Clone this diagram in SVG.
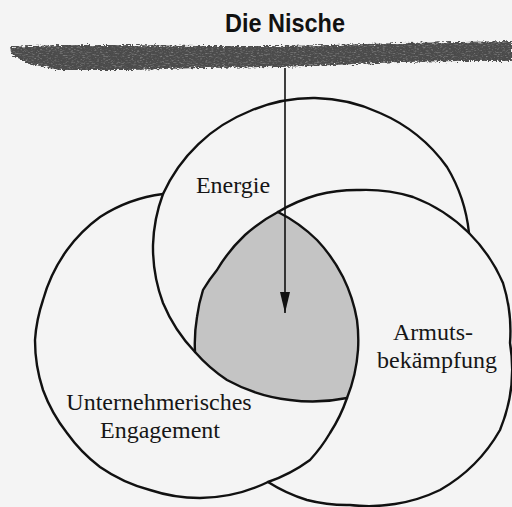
<svg xmlns="http://www.w3.org/2000/svg" width="512" height="507" viewBox="0 0 512 507">
  <defs>
    <style>
      .ring { fill: none; stroke: #111; stroke-width: 2.4; stroke-linejoin: round; stroke-linecap: round; }
      .lbl { font-family: "Liberation Serif", "Times New Roman", serif; font-size: 24px; fill: #161616; text-anchor: middle; }
      .ttl { font-family: "Liberation Sans", Arial, sans-serif; font-weight: bold; font-size: 25px; fill: #111; text-anchor: middle; }
      .conn { stroke: #111; stroke-width: 1.6; fill: none; }
    </style>
    <marker id="arrowhead" markerUnits="userSpaceOnUse" markerWidth="24" markerHeight="12" viewBox="0 -6 22 12" refX="21" refY="0" orient="auto">
      <path d="M0,-5 L21,0 L0,5 Z" fill="#111"/>
    </marker>
    <filter id="brush" x="-3%" y="-60%" width="106%" height="220%">
      <feTurbulence type="fractalNoise" baseFrequency="0.35 0.9" numOctaves="2" seed="7" result="noise"/>
      <feDisplacementMap in="SourceGraphic" in2="noise" scale="6" xChannelSelector="R" yChannelSelector="G" result="rough"/>
      <feColorMatrix in="noise" type="matrix" values="0 0 0 0 0  0 0 0 0 0  0 0 0 0 0  1.6 0 0 0 0" result="mask"/>
      <feComposite in="rough" in2="mask" operator="in" result="speck"/>
      <feComposite in="rough" in2="speck" operator="arithmetic" k1="0" k2="0.55" k3="0.55" k4="0"/>
    </filter>
  </defs>

  <rect x="0" y="0" width="512" height="507" fill="#f4f4f4"/>

  <!-- title and brush stroke -->
  <g id="title">
    <text class="ttl" x="285" y="32" textLength="120" lengthAdjust="spacingAndGlyphs">Die Nische</text>
    <path filter="url(#brush)" fill="#4a4a4a" d="M10,47 L30,46 L60,45 L130,45 L200,46 L280,46 L333,45 L400,43 L460,42 L512,41 L512,61 L460,61 L400,62 L333,65 L280,67 L200,68 L130,70 L60,70 L30,64 L12,55 Z"/>
  </g>

  <!-- shaded niche: intersection of all three circles -->
  <g id="niche">
    <path fill="#c4c4c4" d="M278,212 A160,160 0 0 0 245,235 A160,160 0 0 0 217,270 A160,160 0 0 0 203,290 A160,160 0 0 0 197,317 A160,160 0 0 0 195,352 A160,160 0 0 0 227,380 A170,170 0 0 0 290,400 A170,170 0 0 0 347,398 A158,158 0 0 0 358,350 A158,158 0 0 0 357,320 A158,158 0 0 0 343,277 A158,158 0 0 0 317,240 A158,158 0 0 0 278,212 Z"/>
  </g>

  <!-- circle: Energie -->
  <g id="circle-energie">
    <path class="ring" d="M469,233 A160,160 0 0 0 447,167 A160,160 0 0 0 380,113 A160,160 0 0 0 315,98 A160,160 0 0 0 250,111 A160,160 0 0 0 163,194 A160,160 0 0 0 153,245 A160,160 0 0 0 163,303 A160,160 0 0 0 195,352 A160,160 0 0 0 227,380 A170,170 0 0 0 290,400 A170,170 0 0 0 347,398"/>
    <text class="lbl" x="233" y="193">Energie</text>
  </g>

  <!-- circle: Unternehmerisches Engagement -->
  <g id="circle-engagement">
    <path class="ring" d="M163,194 A150,150 0 0 0 100,217 A150,150 0 0 0 67,250 A158,158 0 0 0 43,300 A158,158 0 0 0 35,340 A158,158 0 0 0 43,390 A158,158 0 0 0 67,433 A158,158 0 0 0 100,467 A158,158 0 0 0 150,490 A158,158 0 0 0 200,498 A158,158 0 0 0 268,482 A158,158 0 0 0 310,460 A158,158 0 0 0 330,433 A158,158 0 0 0 347,398 A158,158 0 0 0 358,350 A158,158 0 0 0 357,320 A158,158 0 0 0 343,277 A158,158 0 0 0 317,240 A158,158 0 0 0 278,212"/>
    <text class="lbl" x="159" y="410">Unternehmerisches</text>
    <text class="lbl" x="160" y="438">Engagement</text>
  </g>

  <!-- circle: Armutsbekämpfung -->
  <g id="circle-armut">
    <path class="ring" d="M278,212 A160,160 0 0 1 317,195 A160,160 0 0 1 360,190 A160,160 0 0 1 413,197 A160,160 0 0 1 469,233 A160,160 0 0 1 503,283 A160,160 0 0 1 510,343 A160,160 0 0 1 500,430 A160,160 0 0 1 440,490 A160,160 0 0 1 395,504 A160,160 0 0 1 350,505 A160,160 0 0 1 307,500 A160,160 0 0 1 268,482"/>
    <path class="ring" d="M278,212 A160,160 0 0 0 245,235 A160,160 0 0 0 217,270 A160,160 0 0 0 203,290 A160,160 0 0 0 197,317 A160,160 0 0 0 195,352"/>
    <text class="lbl" x="433" y="340">Armuts-</text>
    <text class="lbl" x="437" y="368">bekämpfung</text>
  </g>

  <!-- connector: arrow from the niche line into the intersection -->
  <g id="connectors">
    <line class="conn" x1="285" y1="68" x2="285" y2="313" marker-end="url(#arrowhead)"/>
  </g>
</svg>
